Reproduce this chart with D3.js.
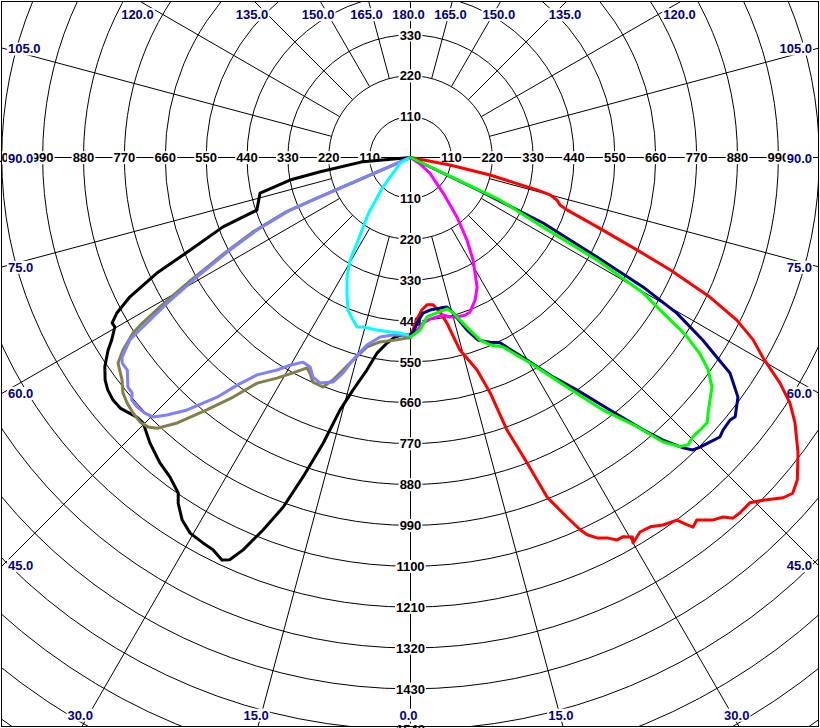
<!DOCTYPE html>
<html><head><meta charset="utf-8">
<script src="https://cdn.jsdelivr.net/npm/d3@7"></script>
<style>html,body{margin:0;padding:0;background:#fff;} svg{display:block;}</style>
</head><body>
<svg id="chart" width="820" height="728"></svg>
<script>
// ---------- data ----------
const ringStep = 110;                 // cd per ring
const ringValues = d3.range(1, 19).map(i => i * ringStep);
const spokeAngles = [0, 15, 30, 45, 60, 75, 90, 105, 120, 135, 150, 165, 180,
                     -15, -30, -45, -60, -75, -90, -105, -120, -135, -150, -165];

// [gamma (deg, negative = left half), intensity]
const curveBlack = [[-90,0],[-85,128],[-81,246],[-79.4,330],[-77.2,396],[-76.7,416],[-71.1,437],[-69.7,538],[-67.2,643],[-65.5,750],[-63.6,843],[-62.1,894],[-61,918],[-60.2,917],[-58.6,942],[-57.5,965],[-55.6,997],[-53.9,1017],[-52.5,1027],[-50.8,1033],[-49.2,1032],[-48.1,1025],[-46.5,1015],[-45.2,1014],[-42.4,1040],[-39.4,1063],[-37,1076],[-34.7,1098],[-33.9,1121],[-32.2,1153],[-30.4,1172],[-28.3,1178],[-26.7,1182],[-25.1,1196],[-24.2,1187],[-23.1,1148],[-21.6,1078],[-20,1001],[-18.6,907],[-17,804],[-15.6,706],[-13.9,645],[-11.6,584],[-9.7,534],[-7.2,503],[-4.9,485],[-2.7,478],[0,478]];
const curveOlive = [[-90,0],[-66.6,275],[-66.4,365],[-64.7,470],[-62.8,562],[-60.8,678],[-59.2,785],[-58.3,847],[-57.7,883],[-56.2,931],[-54.9,962],[-52.4,980],[-50.7,1000],[-49.1,1009],[-47.4,1015],[-45.6,1018],[-44.2,1012],[-43.1,998],[-41.3,951],[-38.9,873],[-36.5,802],[-34.2,734],[-31.2,694],[-28.6,660],[-26.2,631],[-25,640],[-23.5,659],[-20.9,661],[-19.2,634],[-16.4,577],[-12.9,523],[-9.4,503],[-4.2,492],[-1.1,486],[0,485]];
const curvePurple = [[-90,0],[-66.5,265],[-66.4,354],[-64.7,457],[-62.9,546],[-60.8,658],[-59.1,763],[-57.5,863],[-57,900],[-55.3,944],[-54.5,953],[-53.1,953],[-50.9,980],[-49.8,981],[-49,994],[-47.6,996],[-46.1,992],[-44.8,984],[-43.4,954],[-41.5,907],[-38.9,829],[-37.3,770],[-35.2,716],[-32.1,675],[-30.1,646],[-27.7,622],[-25.6,625],[-24,646],[-21.9,654],[-19,639],[-17.4,608],[-15.9,567],[-13.1,518],[-9.6,490],[-5.6,480],[-2.4,478],[0,478]];
const curveCyan = [[-65,0],[-61,32],[-47,69],[-43,108],[-37.6,178],[-36.2,198],[-32,271],[-30.5,320],[-28,364],[-25.1,403],[-22.3,444],[-19.5,464],[-17.5,478],[-15.7,474],[-11,473],[-6.7,473],[-3.4,473],[-1.1,478],[0,478]];
const curveMagenta = [[65,0],[56,30],[51,67],[42.5,130],[38,203],[34.4,269],[31.4,323],[29.2,356],[27.2,392],[24.4,421],[21,446],[19,449],[16.3,447],[13.9,442],[11.7,433],[9.4,435],[6.9,438],[4.3,447],[2.2,465],[0,480]];
const curveRed = [[90,0],[79.2,108],[77.6,219],[75.6,351],[75,389],[73.8,410],[72.4,422],[71.5,444],[69.6,536],[67.8,658],[66.6,761],[65,889],[63.5,981],[62,1044],[60.4,1091],[58.6,1165],[57.1,1216],[55.4,1257],[52.7,1311],[50.2,1355],[48.7,1369],[47.6,1358],[45.8,1323],[44.5,1303],[42.8,1304],[41.8,1302],[41,1282],[39.8,1270],[38.3,1243],[37.4,1252],[37,1238],[36.3,1211],[34.5,1200],[33,1185],[31.5,1182],[30,1198],[30.3,1183],[29.3,1170],[28.4,1170],[27.3,1152],[26.1,1140],[25.1,1121],[24.5,1101],[23.5,1055],[21.9,985],[20.9,880],[19.5,778],[18.7,669],[17.4,599],[14.4,535],[12.4,456],[10.8,423],[8.7,401],[6.4,399],[4.3,411],[2.7,430],[0.8,464],[0,477]];
const curveNavy = [[90,0],[64.3,200],[63.7,398],[61.9,569],[60.9,716],[59.7,830],[58,928],[56.9,984],[56,1037],[53.8,1092],[51.4,1118],[50.6,1113],[48.9,1116],[47.9,1122],[46.5,1112],[45,1102],[44,1094],[43.2,1072],[41.8,1020],[40.5,964],[38.3,866],[35.6,770],[33,704],[29.9,629],[25.8,554],[23.3,541],[20.3,524],[18.1,488],[15.3,434],[13.7,414],[11.1,413],[7.3,414],[4.6,420],[2.3,446],[0.8,472],[0,475]];
const curveGreen = [[90,0],[64.6,266],[62.3,403],[61.2,573],[59.8,724],[58.4,798],[57.2,880],[55.8,943],[54.5,984],[52.7,1020],[51,1037],[49.4,1055],[48.2,1071],[46.7,1070],[45.3,1069],[44,1075],[43,1064],[41.6,1024],[40.1,947],[37.3,854],[34.3,748],[30.2,640],[26,567],[23,548],[20.9,526],[18.4,481],[15.3,434],[13.6,419],[9.6,424],[5.9,431],[3.2,465],[0,483]];

const seriesList = [
  {name: "black",   color: "#000000", values: curveBlack},
  {name: "olive",   color: "#808048", values: curveOlive},
  {name: "purple",  color: "#8080ff", values: curvePurple},
  {name: "cyan",    color: "#00ffff", values: curveCyan},
  {name: "red",     color: "#ff0000", values: curveRed},
  {name: "magenta", color: "#ff00ff", values: curveMagenta},
  {name: "navy",    color: "#000080", values: curveNavy},
  {name: "green",   color: "#00ff00", values: curveGreen}
];

// ---------- layout ----------
const W = 820, H = 728, cx = 410.5, cy = 157.5;
const frame = {x0: 1, y0: 1, x1: 819, y1: 726};
const rScale = d3.scaleLinear().domain([0, ringStep]).range([0, 40.875]);
const FONT = "'Liberation Sans', Arial, Helvetica, sans-serif";

const svg = d3.select("#chart");
svg.append("rect").attr("width", W).attr("height", H).attr("fill", "#fff");
svg.append("defs").append("clipPath").attr("id", "fclip")
  .append("rect").attr("x", frame.x0).attr("y", frame.y0)
  .attr("width", frame.x1 - frame.x0).attr("height", frame.y1 - frame.y0);

const gridG = svg.append("g").attr("clip-path", "url(#fclip)")
  .append("g").attr("transform", `translate(${cx},${cy})`);

// rings
gridG.selectAll("circle.ring").data(ringValues).join("circle")
  .attr("class", "ring").attr("r", d => rScale(d))
  .attr("fill", "none").attr("stroke", "#000").attr("stroke-width", 1);

// spokes
const rad = d => d * Math.PI / 180;
gridG.selectAll("line.spoke").data(spokeAngles).join("line")
  .attr("class", "spoke")
  .attr("x1", d => (d % 90 === 0 ? 0 : rScale(220)) * Math.sin(rad(d)))
  .attr("y1", d => (d % 90 === 0 ? 0 : rScale(220)) * Math.cos(rad(d)))
  .attr("x2", d => 1400 * Math.sin(rad(d)))
  .attr("y2", d => 1400 * Math.cos(rad(d)))
  .attr("stroke", "#000").attr("stroke-width", 1);

// helper: text with white background
function boxedText(parent, x, y, txt, anchor, color, pad) {
  const grp = parent.append("g");
  const t = grp.append("text").attr("x", x).attr("y", y).attr("dy", "0.36em")
    .attr("text-anchor", anchor).attr("fill", color)
    .style("font-family", FONT).style("font-size", "13px").style("font-weight", "bold")
    .text(txt);
  const bb = t.node().getBBox();
  grp.insert("rect", () => t.node())
    .attr("x", bb.x - pad).attr("y", bb.y + 1).attr("width", bb.width + 2 * pad).attr("height", bb.height - 2)
    .attr("fill", "#fff");
}

// ring labels along axes
const ringLabG = svg.append("g");
const ringLabelPos = [];
ringValues.forEach(v => {
  const rr = rScale(v);
  [[cx, cy - rr], [cx, cy + rr], [cx - rr, cy], [cx + rr, cy]].forEach(p => {
    if (p[0] >= 1 && p[0] <= 818 && p[1] >= 1 && p[1] <= 735) ringLabelPos.push({x: p[0], y: p[1], v});
  });
});
ringLabelPos.forEach(p => boxedText(ringLabG, p.x, p.y, String(p.v), "middle", "#000", 1));

// angle labels at the frame
function frameHit(aDeg) {
  const dx = Math.sin(rad(aDeg)), dy = Math.cos(rad(aDeg));
  let t = Infinity, side = null;
  if (dx > 1e-9) { const tt = (818 - cx) / dx; if (tt < t) { t = tt; side = "right"; } }
  if (dx < -1e-9) { const tt = (3 - cx) / dx; if (tt < t) { t = tt; side = "left"; } }
  if (dy > 1e-9) { const tt = (726 - cy) / dy; if (tt < t) { t = tt; side = "bottom"; } }
  if (dy < -1e-9) { const tt = (1 - cy) / dy; if (tt < t) { t = tt; side = "top"; } }
  return {x: cx + t * dx, y: cy + t * dy, side};
}
const angLabG = svg.append("g");
spokeAngles.forEach(a => {
  const h = frameHit(a);
  const txt = Math.abs(a).toFixed(1);
  let x, y, anchor;
  if (h.side === "left") { x = 8; y = h.y + 0.5; anchor = "start"; }
  else if (h.side === "right") { x = 812; y = h.y + 0.5; anchor = "end"; }
  else if (h.side === "top") { x = h.x - 2; y = 14.5; anchor = "middle"; }
  else { x = h.x - 2; y = 715; anchor = "middle"; }
  boxedText(angLabG, x, y, txt, anchor, "#000080", 1);
});

// curves
const curveG = svg.append("g").attr("clip-path", "url(#fclip)")
  .append("g").attr("transform", `translate(${cx},${cy})`);
const lineGen = d3.lineRadial()
  .angle(d => Math.PI - rad(d[0]))
  .radius(d => rScale(d[1]))
  .curve(d3.curveLinear);
curveG.selectAll("path.curve").data(seriesList).join("path")
  .attr("class", "curve")
  .attr("d", d => lineGen(d.values))
  .attr("fill", "none").attr("stroke", d => d.color)
  .attr("stroke-width", 3).attr("stroke-linejoin", "round").attr("stroke-linecap", "round");

// frame
svg.append("rect").attr("x", frame.x0 + 0.5).attr("y", frame.y0 + 0.5)
  .attr("width", frame.x1 - frame.x0 - 1).attr("height", frame.y1 - frame.y0)
  .attr("fill", "none").attr("stroke", "#000").attr("stroke-width", 1);
</script>
</body></html>
